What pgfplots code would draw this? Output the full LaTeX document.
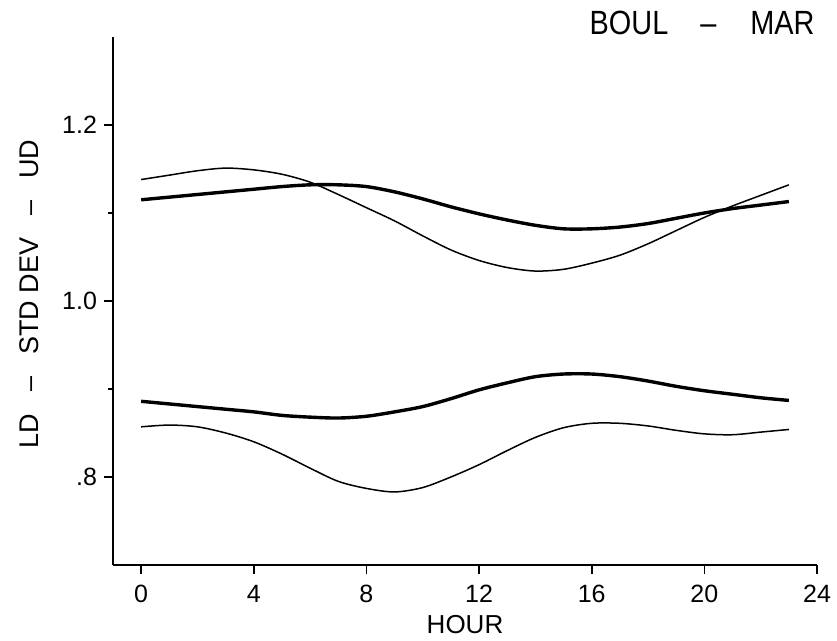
\documentclass[border=0pt]{standalone}
\usepackage{pgfplots}
\pgfplotsset{compat=1.18}
\usepackage{fontspec}
\setmainfont{Liberation Sans}
\newfontfamily\titlefont{Liberation Sans}[FakeStretch=0.86]
\begin{document}
\begin{tikzpicture}
\begin{axis}[
  name=ax,
  scale only axis,
  width=352pt, height=264pt,
  xmin=-1, xmax=24, ymin=0.7, ymax=1.3,
  axis x line*=bottom, axis y line*=left,
  axis line style={line width=1pt, -},
  xtick={0,4,8,12,16,20,24},
  xticklabels={0,4,8,12,16,20,24},
  ytick={0.8,1.0,1.2},
  yticklabels={.8,1.0,1.2},
  minor ytick={0.9,1.1},
  tick align=outside,
  major tick length=4.5pt,
  minor tick length=2.5pt,
  every tick/.style={black, line width=0.8pt},
  tick label style={font=\fontsize{12.5}{14}\selectfont},
  xticklabel style={yshift=-2pt},
  /pgf/number format/assume math mode=true,
  clip=false,
]
% upper thin
\addplot[black, line width=0.75pt, smooth] coordinates {
(0,1.138)(1,1.143)(2,1.148)(3,1.151)(4,1.149)(5,1.144)(6,1.135)(7,1.121)(8,1.106)(9,1.091)(10,1.074)(11,1.058)(12,1.046)(13,1.038)(14,1.034)(15,1.036)(16,1.043)(17,1.052)(18,1.065)(19,1.080)(20,1.095)(21,1.108)(22,1.120)(23,1.132)};
% upper thick
\addplot[black, line width=1.7pt, smooth] coordinates {
(0,1.115)(1,1.118)(2,1.121)(3,1.124)(4,1.127)(5,1.130)(6,1.132)(7,1.132)(8,1.130)(9,1.124)(10,1.116)(11,1.107)(12,1.099)(13,1.092)(14,1.086)(15,1.082)(16,1.082)(17,1.084)(18,1.088)(19,1.094)(20,1.100)(21,1.105)(22,1.109)(23,1.113)};
% lower thick
\addplot[black, line width=1.7pt, smooth] coordinates {
(0,0.886)(1,0.883)(2,0.880)(3,0.877)(4,0.874)(5,0.870)(6,0.868)(7,0.867)(8,0.869)(9,0.874)(10,0.880)(11,0.889)(12,0.899)(13,0.907)(14,0.914)(15,0.917)(16,0.917)(17,0.914)(18,0.909)(19,0.903)(20,0.898)(21,0.894)(22,0.890)(23,0.887)};
% lower thin
\addplot[black, line width=0.75pt, smooth] coordinates {
(0,0.857)(1,0.859)(2,0.857)(3,0.850)(4,0.840)(5,0.826)(6,0.810)(7,0.795)(8,0.787)(9,0.783)(10,0.788)(11,0.800)(12,0.814)(13,0.830)(14,0.845)(15,0.856)(16,0.861)(17,0.861)(18,0.858)(19,0.853)(20,0.849)(21,0.848)(22,0.851)(23,0.854)};
\end{axis}
\node[anchor=base east, inner sep=0pt] at ([xshift=-1pt, yshift=1pt]ax.north east)
  {\titlefont\fontsize{16.8}{18}\selectfont BOUL\hspace{16pt}–\hspace{17pt}MAR};
\node[anchor=base, inner sep=0pt] at ([yshift=-34.5pt]ax.south)
  {\fontsize{13}{15}\selectfont HOUR};
\node[rotate=90, anchor=center, inner sep=0pt] at ([xshift=-42pt, yshift=3.5pt]ax.west)
  {\fontsize{13.5}{15}\selectfont LD\hspace{11pt}–\hspace{11pt}STD DEV\hspace{11pt}–\hspace{11pt}UD};
\pgfresetboundingbox
\path ([xshift=-56.5pt, yshift=-38pt]ax.south west) rectangle ([xshift=10pt, yshift=18.5pt]ax.north east);
\end{tikzpicture}
\end{document}
